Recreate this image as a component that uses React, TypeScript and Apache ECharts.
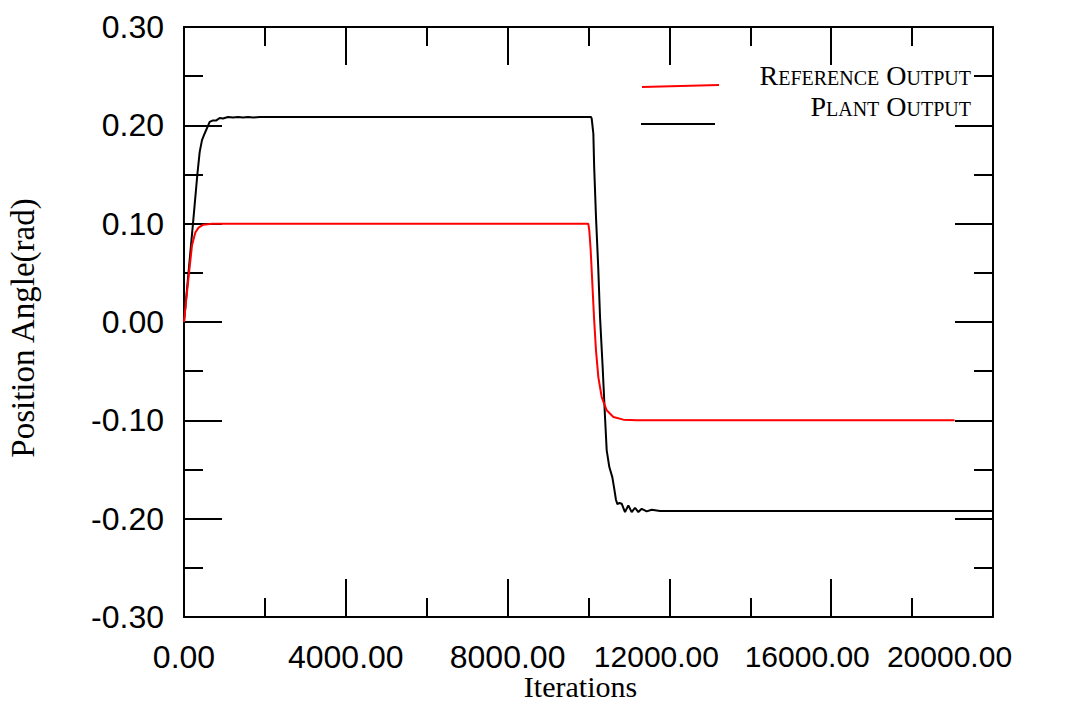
import React, { useEffect, useRef } from "react";
import * as echarts from "echarts";

// ---- data ----
const xTickValues = [0, 4000, 8000, 12000, 16000, 20000];
const yTickValues = [-0.3, -0.2, -0.1, 0, 0.1, 0.2, 0.3];

const refIter = [0, 60, 124, 198, 280, 360, 480, 700, 9995, 10020, 10054, 10095, 10136, 10185, 10243, 10326, 10450, 10615, 10862, 11193, 19050];
const refValue = [0, 0.025, 0.05, 0.078, 0.091, 0.096, 0.099, 0.1, 0.1, 0.093, 0.073, 0.039, 0.005, -0.0288, -0.056, -0.0763, -0.0898, -0.0966, -0.0993, -0.1, -0.1];

const plantIter = [0, 222, 330, 388, 445, 511, 635, 717, 800, 882, 964, 1088, 1212, 1335, 1459, 1583, 1706, 1871, 10062, 10079, 10120, 10140, 10185, 10240, 10285, 10350, 10408, 10450, 10515, 10590, 10630, 10680, 10715, 10765, 10820, 10902, 10985, 11068, 11150, 11232, 11315, 11439, 11563, 11768, 20000];
const plantValue = [0, 0.1, 0.15, 0.173, 0.185, 0.1917, 0.2035, 0.205, 0.205, 0.2075, 0.207, 0.2085, 0.2079, 0.2085, 0.2079, 0.2085, 0.2079, 0.2085, 0.2085, 0.2069, 0.1916, 0.158, 0.107, 0.056, 0.005, -0.046, -0.0966, -0.1305, -0.1475, -0.158, -0.168, -0.181, -0.1852, -0.184, -0.1848, -0.1933, -0.1865, -0.1933, -0.1889, -0.1933, -0.19, -0.1926, -0.191, -0.1923, -0.1923];

const seriesNames = ["Reference Output", "Plant Output"];
const xAxisTitle = "Iterations";
const yAxisTitle = "Position Angle(rad)";

const SANS = "'Liberation Sans', Arial, sans-serif";
const SERIF = "'Liberation Serif', 'Times New Roman', serif";

export default function App() {
  const ref = useRef<HTMLDivElement>(null);

  useEffect(() => {
    if (!ref.current) return;
    const chart = echarts.init(ref.current, undefined, { renderer: "svg" });

    const tickStyle = { color: "#000", width: 2 };
    const baseX = {
      type: "value",
      min: xTickValues[0],
      max: xTickValues[xTickValues.length - 1],
      interval: xTickValues[1] - xTickValues[0],
      axisLine: { show: true, onZero: false, lineStyle: { color: "#000", width: 2 } },
      axisTick: { show: true, inside: true, length: 38, lineStyle: tickStyle },
      minorTick: { show: true, splitNumber: 2, length: 19, lineStyle: tickStyle },
      splitLine: { show: false },
      minorSplitLine: { show: false },
    };
    const baseY = {
      type: "value",
      min: yTickValues[0],
      max: yTickValues[yTickValues.length - 1],
      interval: 0.1,
      axisLine: { show: true, onZero: false, lineStyle: { color: "#000", width: 2 } },
      axisTick: { show: true, inside: true, length: 38, lineStyle: tickStyle },
      minorTick: { show: true, splitNumber: 2, length: 19, lineStyle: tickStyle },
      splitLine: { show: false },
      minorSplitLine: { show: false },
    };

    const wideLabel = (pad: number) => ({
      fontSize: 30,
      fontFamily: SANS,
      color: "#000",
      padding: [0, pad, 0, 0],
    });

    const option: any = {
      animation: false,
      backgroundColor: "#fff",
      grid: { left: 184, top: 27, right: 76, bottom: 89, containLabel: false, outerBoundsMode: "none" },
      xAxis: [
        {
          ...baseX,
          position: "bottom",
          name: xAxisTitle,
          nameLocation: "middle",
          nameGap: 54,
          nameMoveOverlap: false,
          nameTextStyle: { fontFamily: SERIF, fontSize: 30, color: "#000", padding: [0, 16, 0, 0] },
          axisLabel: {
            show: true,
            margin: 24,
            fontSize: 32,
            fontFamily: SANS,
            color: "#000",
            showMinLabel: true,
            showMaxLabel: true,
            hideOverlap: false,
            formatter: (v: number) => {
              const s = v.toFixed(2);
              if (v === 12000) return `{a|${s}}`;
              if (v === 16000) return `{b|${s}}`;
              if (v === 20000) return `{c|${s}}`;
              return s;
            },
            rich: { a: wideLabel(26), b: wideLabel(48), c: wideLabel(87) },
          },
        },
        { ...baseX, position: "top", axisLabel: { show: false } },
      ],
      yAxis: [
        {
          ...baseY,
          position: "left",
          name: yAxisTitle,
          nameLocation: "middle",
          nameRotate: 90,
          nameGap: 145,
          nameMoveOverlap: false,
          nameTextStyle: { fontFamily: SERIF, fontSize: 33, color: "#000", padding: [0, 12, 0, 0] },
          axisLabel: {
            show: true,
            margin: 20,
            fontSize: 32,
            fontFamily: SANS,
            color: "#000",
            showMinLabel: true,
            showMaxLabel: true,
            formatter: (v: number) => v.toFixed(2),
          },
        },
        { ...baseY, position: "right", axisLabel: { show: false } },
      ],
      series: [
        {
          type: "line",
          name: seriesNames[1],
          data: plantIter.map((x, i) => [x, plantValue[i]]),
          showSymbol: false,
          symbol: "none",
          lineStyle: { color: "#000", width: 2 },
          itemStyle: { color: "#000" },
          z: 2,
        },
        {
          type: "line",
          name: seriesNames[0],
          data: refIter.map((x, i) => [x, refValue[i]]),
          showSymbol: false,
          symbol: "none",
          lineStyle: { color: "#ff0000", width: 2 },
          itemStyle: { color: "#ff0000" },
          z: 3,
        },
      ],
      graphic: [
        { type: "line", shape: { x1: 642, y1: 87, x2: 719, y2: 85 }, style: { stroke: "#ff0000", lineWidth: 2 } },
        { type: "line", shape: { x1: 641, y1: 124, x2: 715, y2: 124 }, style: { stroke: "#000", lineWidth: 2 } },
        {
          type: "text",
          x: 971,
          y: 75,
          style: {
            text: seriesNames[0],
            font: `small-caps 28px ${SERIF}`,
            fill: "#000",
            align: "right",
            verticalAlign: "middle",
          },
        },
        {
          type: "text",
          x: 971,
          y: 106,
          style: {
            text: seriesNames[1],
            font: `small-caps 28px ${SERIF}`,
            fill: "#000",
            align: "right",
            verticalAlign: "middle",
          },
        },
      ],
    };

    chart.setOption(option);
    return () => chart.dispose();
  }, []);

  return (
    <div
      ref={ref}
      style={{ position: "fixed", left: 0, top: 0, width: 1069, height: 706, background: "#fff" }}
    />
  );
}
